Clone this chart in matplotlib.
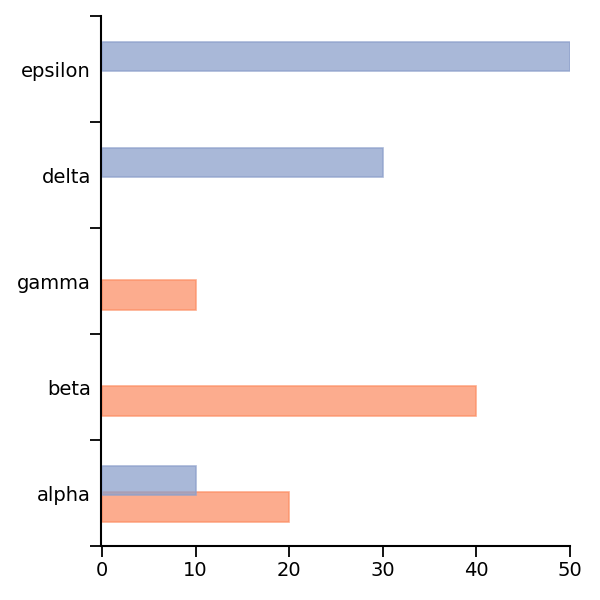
import numpy as np
import matplotlib.pyplot as plt
from matplotlib.ticker import FixedLocator

categories = ['alpha', 'beta', 'gamma', 'delta', 'epsilon']
series_a = [20, 40, 10, 0, 0]   # orange, lower bar
series_b = [10, 0, 0, 30, 50]   # blue, upper bar

pos = np.arange(len(categories))
h = 0.275

fig = plt.figure(figsize=(6, 6), dpi=100)
ax = fig.add_axes([0.17, 0.09, 0.78, 0.8833])

a = np.array(series_a, dtype=float)
b = np.array(series_b, dtype=float)
ma = a > 0
mb = b > 0
ax.barh(pos[ma] - 0.27, a[ma], height=h, align='edge', color='#fc8d62', alpha=0.72,
        edgecolor='#fc8d62', linewidth=1.2, zorder=2)
ax.barh(pos[mb] - 0.02, b[mb], height=h, align='edge', color='#8da0cb', alpha=0.75,
        edgecolor='#8da0cb', linewidth=1.2, zorder=3)

ax.set_xlim(0, 50)
ax.set_ylim(-0.5, len(categories) - 0.5)

ax.set_xticks([0, 10, 20, 30, 40, 50])
ax.yaxis.set_major_locator(FixedLocator(np.arange(-0.5, len(categories), 1.0)))
ax.yaxis.set_major_formatter(plt.NullFormatter())
ax.yaxis.set_minor_locator(FixedLocator(pos))
ax.set_yticklabels(categories, minor=True)

ax.tick_params(axis='y', which='major', length=8, width=1.3, direction='out')
ax.tick_params(axis='y', which='minor', length=0, pad=7, labelsize=14)
ax.tick_params(axis='x', length=8, width=1.3, labelsize=14, pad=3)

for s in ['top', 'right']:
    ax.spines[s].set_visible(False)
for s in ['left', 'bottom']:
    ax.spines[s].set_linewidth(1.5)
ax.spines['left'].set_position(('outward', 1))

fig.savefig('out.png', dpi=100)
